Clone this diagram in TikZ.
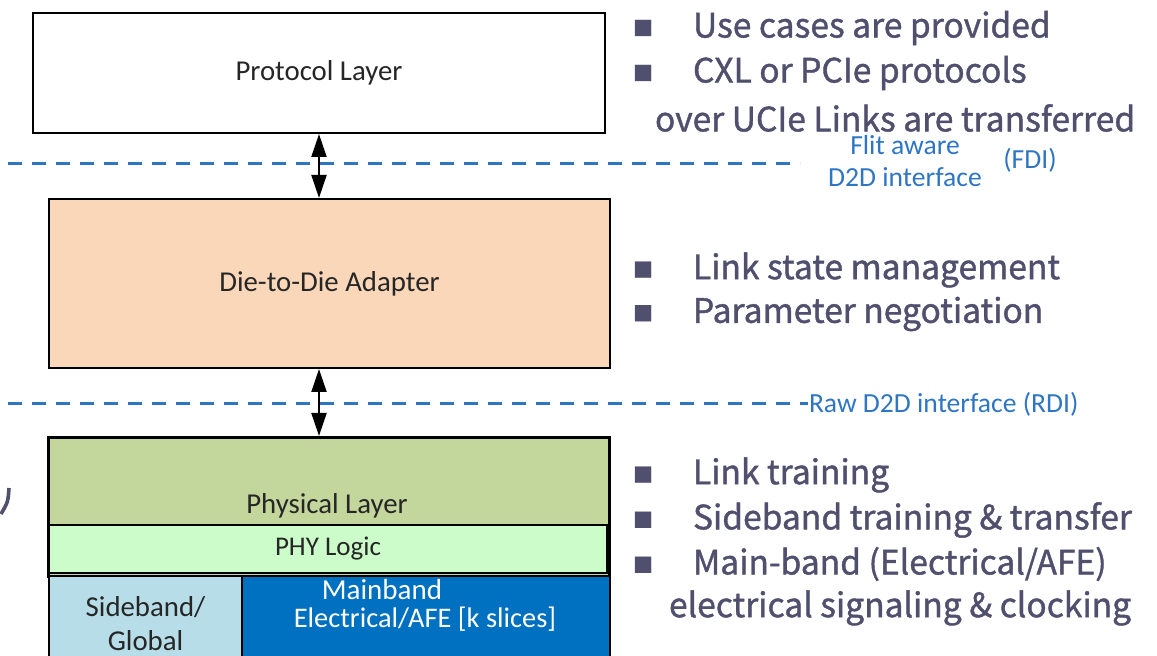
\documentclass[tikz,border=0pt]{standalone}
\usepackage{fontspec}
\setmainfont{Carlito}
\newfontfamily\notefont[FakeBold=1.2]{Noto Sans CJK JP}
\usepackage{tikz}
\usetikzlibrary{arrows.meta,positioning}
\definecolor{d2dfill}{HTML}{FBD7B9}
\definecolor{physfill}{HTML}{C3D69B}
\definecolor{logicfill}{HTML}{CCFCCA}
\definecolor{sbfill}{HTML}{B7DDE8}
\definecolor{mbfill}{HTML}{0070C0}
\definecolor{ifblue}{HTML}{2E75C4}
\definecolor{notecol}{HTML}{50506E}
\definecolor{boxtext}{HTML}{262626}
\newcommand{\blt}{\makebox[30pt][l]{\raisebox{1pt}{\fontsize{10}{10}\selectfont ■}}}

\begin{document}
\begin{tikzpicture}[x=0.5pt,y=-0.5pt,>={Triangle[length=11.5pt,width=7.5pt]},line width=1pt]
\tikzstyle{layer}=[draw=black,anchor=north west,inner sep=0pt,text=boxtext,font=\fontsize{14.4}{16}\selectfont]
\tikzstyle{iface}=[draw=ifblue,line width=1.5pt,dash pattern=on 7pt off 5pt]
\tikzstyle{iflabel}=[text=ifblue,inner sep=0pt,font=\fontsize{13.8}{16}\selectfont,align=center]
\tikzstyle{note}=[text=notecol,anchor=west,inner sep=0pt,font=\notefont\fontsize{16.8}{18}\selectfont]
\useasboundingbox (0,0) rectangle (1157,656);
\node[layer,fill=white,minimum width=286pt,minimum height=60pt] (proto) at (32,12) {Protocol Layer};
\node[layer,fill=d2dfill,minimum width=280.5pt,minimum height=84.5pt] (d2d) at (48,198) {Die-to-Die Adapter};
\node[layer,fill=physfill,minimum width=280.5pt,minimum height=69.5pt,line width=1.3pt] (phy) at (47,436) {};
\node[text=boxtext,font=\fontsize{14.4}{16}\selectfont] (phytext) at (327,506) {Physical Layer};
\node[layer,fill=logicfill,minimum width=279pt,minimum height=24pt,font=\fontsize{13.5}{15}\selectfont] (logic) at (48,524) {PHY Logic};
\node[layer,fill=sbfill,minimum width=96.5pt,minimum height=47.5pt,align=center] (sb) at (48,575) {Sideband/\\[1pt]Global};
\node[layer,fill=mbfill,minimum width=184pt,minimum height=47.5pt] (mb) at (241,575) {};
\node[text=white,inner sep=0pt,font=\fontsize{14.5}{16}\selectfont] (mbtitle) at (382,590) {Mainband};
\node[text=white,inner sep=0pt,font=\fontsize{14.2}{16}\selectfont] (mbsub) at (425,619) {Electrical/AFE [k slices]};

\node[iflabel] (fdi) at (905,161) {Flit aware\\[0pt]D2D interface};
\node[iflabel] (fditag) at (1030,160) {(FDI)};
\node[iflabel,anchor=west] (rdi) at (808,404) {Raw D2D interface (RDI)};
\coordinate (fdistart) at (8,164);
\coordinate (rdistart) at (8,404);
\draw[iface] (fdistart) -- (fdistart -| 800,0);
\draw[iface] (rdistart) -- (rdi.west);

\draw[<->] (proto.south) -- (proto.south |- d2d.north);
\draw[<->] (d2d.south -| proto.south) -- (proto.south |- phy.north);

\node[note] (n1) at (632,28) {\blt Use cases are provided};
\node[note] (n2) at (632,73) {\blt CXL or PCIe protocols};
\node[note] (n3) at (654,118) {over UCIe Links are transferred};
\node[note] (n4) at (632,270) {\blt Link state management};
\node[note] (n5) at (632,314) {\blt Parameter negotiation};
\node[note] (n6) at (632,475) {\blt Link training};
\node[note] (n7) at (632,520) {\blt Sideband training \& transfer};
\node[note] (n8) at (632,564) {\blt Main-band (Electrical/AFE)};
\node[note] (n9) at (668,608) {electrical signaling \& clocking};

\draw[notecol,line width=1.8pt] (9,488) .. controls (8,502) .. (1,514);
\end{tikzpicture}
\end{document}
